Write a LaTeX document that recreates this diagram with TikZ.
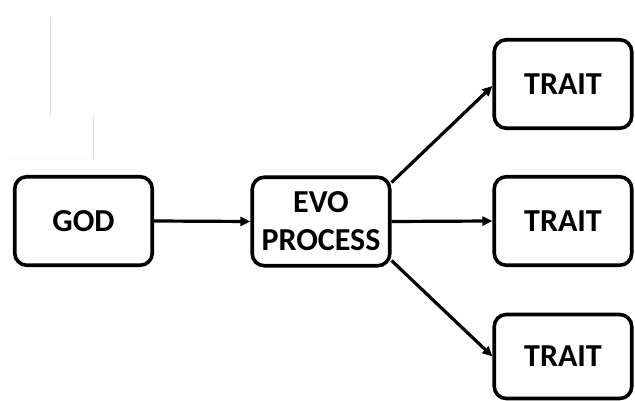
\documentclass[tikz,border=0pt]{standalone}
\usepackage{fontspec}
\setmainfont{Carlito}
\usetikzlibrary{arrows.meta}
\tikzset{
  box/.style={draw=black, line width=3.6pt, rounded corners=12pt, fill=white,
    minimum width=137.5pt, minimum height=88.5pt, inner sep=0pt, align=center,
    font=\bfseries\fontsize{32}{38}\selectfont},
  link/.style={line width=3.2pt, -{Triangle[length=10pt,width=9pt]}},
  ghost/.style={line width=1pt, draw=black!13}
}
\begin{document}
\begin{tikzpicture}[x=1pt, y=-1pt]
  \useasboundingbox (0,0) rectangle (635,401);
  % faint guide strokes at the upper left
  \draw[ghost] (50,17) -- (50,115);
  \draw[ghost] (93,116) -- (93,160);
  \draw[line width=1pt, draw=black!2] (5,160) -- (93,160);

  \node[box] (god) at (83.5,221) {GOD};
  \node[box] (evo) at (321,221.5) {EVO\\PROCESS};
  \node[box] (t1) at (563,84) {TRAIT};
  \node[box] (t2) at (563,221) {TRAIT};
  \node[box, minimum height=84pt] (t3) at (563,356.5) {TRAIT};

  \draw[link] (god.east) -- (evo.west);
  \draw[link] (evo.east) -- (t2.west);
  \draw[link] ([yshift=-7pt]evo.north east) -- ([yshift=-2pt]t1.west);
  \draw[link] ([yshift=7pt]evo.south east) -- (t3.west);
\end{tikzpicture}
\end{document}
